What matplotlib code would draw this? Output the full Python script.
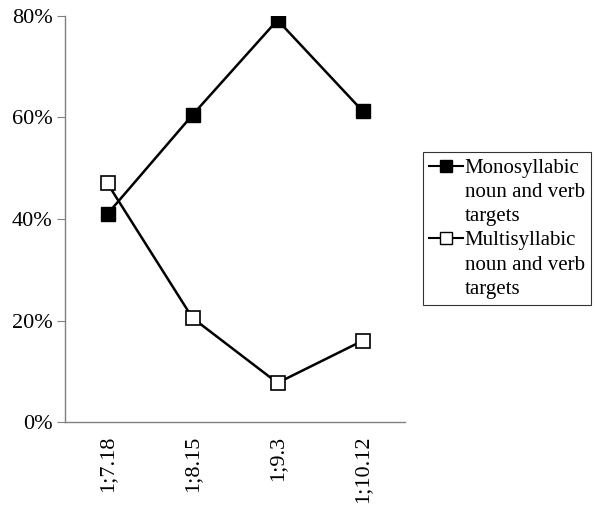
import matplotlib
matplotlib.use("Agg")
import matplotlib.pyplot as plt
from matplotlib.lines import Line2D

ages = ["1;7.18", "1;8.15", "1;9.3", "1;10.12"]
mono = [41, 60.5, 79.2, 61.3]
multi = [47, 20.5, 7.7, 16]
yticks = [0, 20, 40, 60, 80]
mono_label = ["Monosyllabic", "noun and verb", "targets"]
multi_label = ["Multisyllabic", "noun and verb", "targets"]

plt.rcParams["font.family"] = ["Liberation Serif", "DejaVu Serif"]

fig = plt.figure(figsize=(5.95, 5.05), dpi=100)
ax = fig.add_axes([65/595, 83/505, 340/595, 406/505])

x = range(len(ages))
ax.plot(x, mono, color="black", lw=1.8, marker="s", ms=10, mfc="black", mec="black")
ax.plot(x, multi, color="black", lw=1.8, marker="s", ms=10, mfc="white", mec="black", mew=1.2)

ax.set_xlim(-0.5, len(ages) - 0.5)
ax.set_ylim(0, 80)
ax.set_yticks(yticks)
ax.set_yticklabels([f"{v}%" for v in yticks], fontsize=16)
ax.set_xticks(list(x))
ax.set_xticklabels(ages, rotation=90, fontsize=16)
ax.tick_params(axis="x", length=0, pad=10)
ax.tick_params(axis="y", length=6, color="#808080", pad=3)

for side in ["top", "right"]:
    ax.spines[side].set_visible(False)
for side in ["left", "bottom"]:
    ax.spines[side].set_color("#808080")
    ax.spines[side].set_linewidth(1.0)

# legend: one row per text line, handle only on the first line of each entry
blank = Line2D([], [], color="none")
h_mono = Line2D([], [], color="black", lw=1.5, marker="s", ms=9, mfc="black", mec="black")
h_multi = Line2D([], [], color="black", lw=1.5, marker="s", ms=9, mfc="white", mec="black")
handles = [h_mono, blank, blank, h_multi, blank, blank]
labels = mono_label + multi_label

leg = fig.legend(handles, labels, loc="upper left", bbox_to_anchor=(423/595, 1 - 152/505),
                 fontsize=15, frameon=True, fancybox=False, edgecolor="black",
                 handlelength=1.6, handletextpad=0.1, borderpad=0.3,
                 labelspacing=0.22, borderaxespad=0)
leg.get_frame().set_linewidth(0.8)

fig.savefig("out.png", dpi=100)
